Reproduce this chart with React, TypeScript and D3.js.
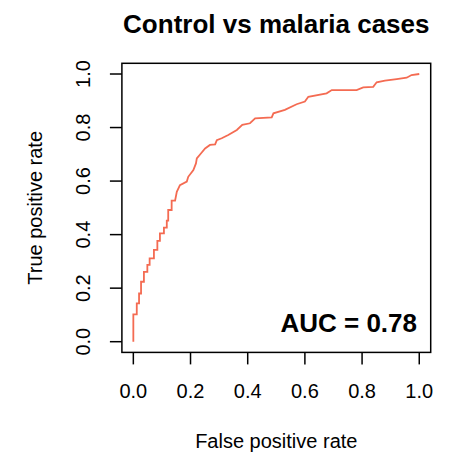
import * as d3 from "d3";

// ROC curve points
const fpr = [
  0, 0, 0.012, 0.012, 0.02, 0.02, 0.027, 0.027, 0.037, 0.037, 0.049, 0.049,
  0.057, 0.057, 0.072, 0.072, 0.084, 0.084, 0.093, 0.093, 0.107, 0.107, 0.117,
  0.117, 0.122, 0.122, 0.134, 0.134, 0.146, 0.152, 0.163, 0.187, 0.192, 0.21,
  0.219, 0.222, 0.237, 0.251, 0.268, 0.286, 0.292, 0.309, 0.332, 0.362, 0.381,
  0.408, 0.426, 0.484, 0.49, 0.53, 0.571, 0.6, 0.612, 0.676, 0.694, 0.781,
  0.804, 0.839, 0.851, 0.88, 0.921, 0.956, 0.973, 1,
];
const tpr = [
  0, 0.102, 0.102, 0.143, 0.143, 0.18, 0.18, 0.224, 0.224, 0.261, 0.261, 0.287,
  0.287, 0.311, 0.311, 0.343, 0.343, 0.377, 0.377, 0.405, 0.405, 0.426, 0.426,
  0.452, 0.452, 0.492, 0.492, 0.527, 0.527, 0.56, 0.585, 0.598, 0.616, 0.641,
  0.666, 0.685, 0.704, 0.722, 0.735, 0.737, 0.753, 0.76, 0.772, 0.791, 0.81,
  0.816, 0.834, 0.838, 0.853, 0.866, 0.887, 0.897, 0.915, 0.928, 0.94, 0.94,
  0.95, 0.952, 0.969, 0.975, 0.981, 0.986, 0.996, 1,
];
const ticks = [0, 0.2, 0.4, 0.6, 0.8, 1.0];
const title = "Control vs malaria cases";
const aucLabel = "AUC = 0.78";

const W = 460;
const H = 457;
const left = 121.9, right = 430.7, top = 63.3, bottom = 352.4;
const font = "Liberation Sans, Arial, Helvetica, sans-serif";

export default function App() {
  const x = d3.scaleLinear().domain([-0.04, 1.04]).range([left, right]);
  const y = d3.scaleLinear().domain([-0.04, 1.04]).range([bottom, top]);
  const line = d3
    .line<number>()
    .x((_, i) => x(fpr[i]))
    .y((_, i) => y(tpr[i]));
  const fmt = d3.format(".1f");
  const midY = (top + bottom) / 2;

  return (
    <svg
      width={W}
      height={H}
      style={{ position: "absolute", left: 0, top: 0, background: "#fff" }}
      fontFamily={font}
    >
      <text x={(left + right) / 2} y={33} textAnchor="middle" fontSize={26} fontWeight="bold">
        {title}
      </text>
      <rect x={left} y={top} width={right - left} height={bottom - top} fill="none" stroke="#000" strokeWidth={1.5} />
      {ticks.map((t) => (
        <g key={"x" + t}>
          <line x1={x(t)} x2={x(t)} y1={bottom} y2={bottom + 12} stroke="#000" strokeWidth={1.5} />
          <text x={x(t)} y={398} textAnchor="middle" fontSize={20}>
            {fmt(t)}
          </text>
        </g>
      ))}
      {ticks.map((t) => (
        <g key={"y" + t}>
          <line x1={left - 12} x2={left} y1={y(t)} y2={y(t)} stroke="#000" strokeWidth={1.5} />
          <text
            transform={`translate(89.5,${y(t)}) rotate(-90)`}
            textAnchor="middle"
            fontSize={20}
          >
            {fmt(t)}
          </text>
        </g>
      ))}
      <text x={(left + right) / 2} y={448} textAnchor="middle" fontSize={20}>
        False positive rate
      </text>
      <text transform={`translate(41.7,${midY}) rotate(-90)`} textAnchor="middle" fontSize={20}>
        True positive rate
      </text>
      <path d={line(fpr) ?? ""} fill="none" stroke="#F46B52" strokeWidth={1.8} />
      <text x={417} y={331.7} textAnchor="end" fontSize={26} fontWeight="bold">
        {aucLabel}
      </text>
    </svg>
  );
}
